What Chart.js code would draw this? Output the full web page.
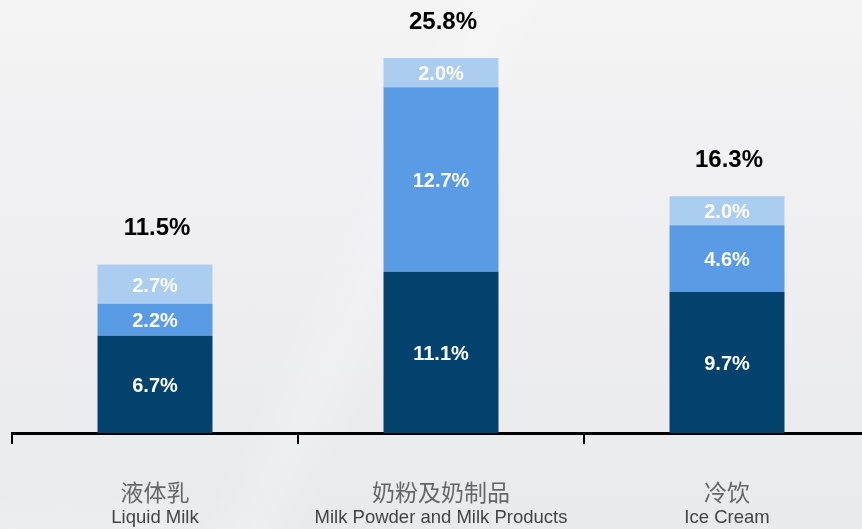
<!DOCTYPE html>
<html>
<head>
<meta charset="utf-8">
<script src="https://cdn.jsdelivr.net/npm/chart.js@4.4.1/dist/chart.umd.min.js"></script>
<style>
    html, body {
        margin: 0;
        padding: 0;
        width: 862px;
        height: 529px;
        overflow: hidden;
    }
    #wrap {
        position: relative;
        width: 862px;
        height: 529px;
        overflow: hidden;
        background:
            radial-gradient(ellipse 420px 200px at 60px 620px, rgba(255,255,255,0.45), rgba(255,255,255,0) 75%),
            linear-gradient(115deg, rgba(255,255,255,0) 40%, rgba(255,255,255,0.18) 45%, rgba(255,255,255,0) 50%),
            linear-gradient(180deg, #f4f4f5 0%, #eeeef0 55%, #e9eaec 100%);
    }
    #box {
        position: absolute;
        left: 0;
        top: 0;
        width: 870px;
        height: 529px;
    }
</style>
</head>
<body>
<div id="wrap">
    <div id="box"><canvas id="segment-chart"></canvas></div>
</div>
<script>
// Dane wykresu
const labelsCn = ['液体乳', '奶粉及奶制品', '冷饮'];
const labelsEn = ['Liquid Milk', 'Milk Powder and Milk Products', 'Ice Cream'];
const seriesBase = [6.7, 11.1, 9.7];
const seriesMid = [2.2, 12.7, 4.6];
const seriesTop = [2.7, 2.0, 2.0];
const totals = [11.5, 25.8, 16.3];

const colors = ['#02426c', '#5a9be6', '#aacdf0'];

document.addEventListener('DOMContentLoaded', () => {
    const ctx = document.getElementById('segment-chart').getContext('2d');

    // Etykiety wartosci na slupkach i sumy nad nimi
    const valueLabels = {
        id: 'valueLabels',
        afterDatasetsDraw(chart) {
            const c = chart.ctx;
            c.save();
            c.textAlign = 'center';
            c.textBaseline = 'middle';
            c.fillStyle = '#ffffff';
            c.font = 'bold 20px "Liberation Sans", Arial, sans-serif';
            chart.data.datasets.forEach((ds, di) => {
                const meta = chart.getDatasetMeta(di);
                meta.data.forEach((bar, i) => {
                    const y = (bar.y + bar.base) / 2;
                    c.fillText(ds.data[i].toFixed(1) + '%', bar.x, y + 2);
                });
            });
            const last = chart.getDatasetMeta(chart.data.datasets.length - 1);
            c.fillStyle = '#000000';
            c.font = 'bold 24px "Liberation Sans", Arial, sans-serif';
            last.data.forEach((bar, i) => {
                c.fillText(totals[i].toFixed(1) + '%', bar.x + 2, bar.y - 36);
            });
            c.restore();
        }
    };

    // Dwuwierszowe podpisy osi X
    const axisLabels = {
        id: 'axisLabels',
        afterDraw(chart) {
            const c = chart.ctx;
            const x = chart.scales.x;
            const bottom = chart.chartArea.bottom;
            c.save();
            c.textAlign = 'center';
            c.textBaseline = 'middle';
            labelsCn.forEach((txt, i) => {
                const px = x.getPixelForValue(i);
                c.fillStyle = '#666666';
                c.font = '23px "Noto Sans CJK SC", sans-serif';
                c.fillText(txt, px, bottom + 59);
                c.fillStyle = '#444444';
                c.font = '18.5px "Liberation Sans", Arial, sans-serif';
                c.fillText(labelsEn[i], px, bottom + 85);
            });
            c.restore();
        }
    };

    new Chart(ctx, {
        type: 'bar',
        data: {
            labels: labelsEn,
            datasets: [
                { data: seriesBase, backgroundColor: colors[0], borderWidth: 0 },
                { data: seriesMid, backgroundColor: colors[1], borderWidth: 0 },
                { data: seriesTop, backgroundColor: colors[2], borderWidth: 0 }
            ]
        },
        options: {
            responsive: true,
            maintainAspectRatio: false,
            animation: false,
            layout: {
                padding: { left: 12, right: 0, top: 0, bottom: 85 }
            },
            datasets: {
                bar: {
                    categoryPercentage: 1.0,
                    barPercentage: 0.402
                }
            },
            plugins: {
                legend: { display: false },
                tooltip: { enabled: false }
            },
            scales: {
                x: {
                    stacked: true,
                    ticks: { display: false },
                    grid: {
                        offset: true,
                        drawOnChartArea: false,
                        drawTicks: true,
                        tickLength: 11,
                        color: '#000000',
                        lineWidth: 2
                    },
                    border: { display: true, color: '#000000', width: 3 }
                },
                y: {
                    stacked: true,
                    display: false,
                    min: 0,
                    max: 29.8
                }
            }
        },
        plugins: [valueLabels, axisLabels]
    });
});
</script>
</body>
</html>
